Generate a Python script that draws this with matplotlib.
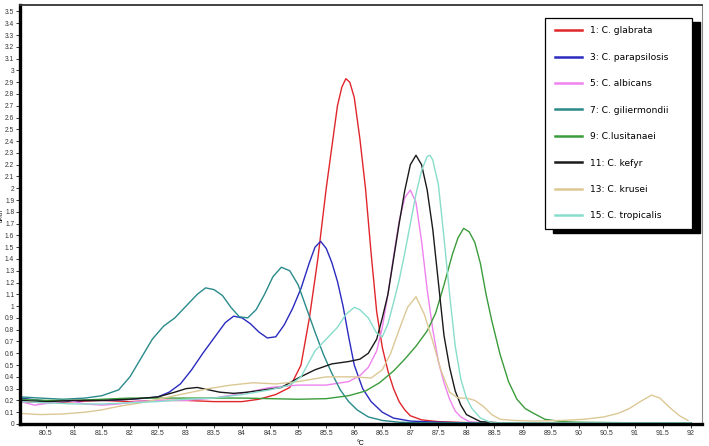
import matplotlib
matplotlib.use("Agg")
import matplotlib.pyplot as plt
from matplotlib.patches import Rectangle
import numpy as np

plt.rcParams['font.family'] = ['Liberation Sans', 'DejaVu Sans']

# -- melt curve data (dF/dT vs temperature) --
names = ['1: C. glabrata', '3: C. parapsilosis', '5: C. albicans', '7: C. giliermondii',
         '9: C.lusitanaei', '11: C. kefyr', '13: C. krusei', '15: C. tropicalis']
colors = ['#e0262b', '#2a2ac0', '#ee82ee', '#2a8a8a', '#3b9c3b', '#1a1a1a', '#dcc895', '#88dccc']

glabrata_x = [80.05, 80.5, 81.0, 81.5, 82.0, 82.5, 83.0, 83.5, 84.0, 84.3, 84.6, 84.85, 85.05, 85.2, 85.35,
              85.5, 85.6, 85.7, 85.78, 85.85, 85.92, 86.0, 86.1, 86.2, 86.3, 86.4, 86.5, 86.6, 86.7, 86.8,
              86.9, 87.0, 87.2, 87.5, 88.0, 89, 90, 91, 92]
glabrata_y = [0.19, 0.18, 0.19, 0.2, 0.19, 0.2, 0.2, 0.19, 0.19, 0.21, 0.25, 0.31, 0.5, 0.9, 1.4,
              2.0, 2.35, 2.7, 2.86, 2.93, 2.9, 2.77, 2.42, 2.0, 1.45, 0.95, 0.65, 0.45, 0.3, 0.19,
              0.12, 0.07, 0.035, 0.02, 0.012, 0.01, 0.01, 0.01, 0.01]

parapsilosis_x = [80.05, 80.4, 80.8, 81.2, 81.6, 82.0, 82.3, 82.5, 82.7, 82.9, 83.1, 83.3, 83.5, 83.7, 83.85,
                  84.0, 84.15, 84.3, 84.45, 84.6, 84.75, 84.9, 85.05, 85.2, 85.3, 85.4, 85.5, 85.6, 85.7,
                  85.8, 85.9, 86.0, 86.15, 86.3, 86.5, 86.7, 87.0, 87.5, 88, 89, 90, 91, 92]
parapsilosis_y = [0.22, 0.2, 0.19, 0.2, 0.2, 0.21, 0.22, 0.23, 0.27, 0.34, 0.46, 0.6, 0.73, 0.86, 0.915,
                  0.9, 0.85, 0.78, 0.73, 0.74, 0.84, 0.98, 1.15, 1.37, 1.5, 1.55, 1.49, 1.37, 1.21,
                  1.0, 0.74, 0.5, 0.3, 0.19, 0.1, 0.05, 0.025, 0.015, 0.01, 0.01, 0.01, 0.01, 0.01]

albicans_x = [80.05, 80.3, 80.6, 80.9, 81.2, 81.5, 81.8, 82.1, 82.5, 83.0, 83.5, 84.0, 84.5, 85.0, 85.5,
              85.9, 86.1, 86.25, 86.4, 86.5, 86.6, 86.7, 86.8, 86.9, 87.0, 87.1, 87.2, 87.3, 87.4, 87.5,
              87.6, 87.7, 87.8, 87.9, 88.05, 88.3, 89, 90, 91, 92]
albicans_y = [0.19, 0.16, 0.18, 0.2, 0.17, 0.16, 0.17, 0.19, 0.2, 0.2, 0.22, 0.26, 0.31, 0.33, 0.33,
              0.36, 0.41, 0.48, 0.62, 0.82, 1.1, 1.42, 1.72, 1.92, 1.985, 1.88, 1.55, 1.14, 0.8, 0.53,
              0.35, 0.21, 0.11, 0.06, 0.02, 0.01, 0.01, 0.01, 0.01, 0.01]

giliermondii_x = [80.05, 80.4, 80.8, 81.2, 81.5, 81.8, 82.0, 82.2, 82.4, 82.6, 82.8, 83.0, 83.2, 83.35, 83.5,
                  83.65, 83.8, 83.95, 84.1, 84.25, 84.4, 84.55, 84.7, 84.85, 85.0, 85.15, 85.3, 85.45,
                  85.6, 85.75, 85.9, 86.05, 86.25, 86.5, 86.8, 87.2, 88, 89, 90, 91, 92]
giliermondii_y = [0.23, 0.22, 0.21, 0.22, 0.24, 0.29, 0.4, 0.56, 0.72, 0.83, 0.9, 1.0, 1.1, 1.155, 1.14,
                  1.09, 0.99, 0.91, 0.9, 0.97, 1.1, 1.25, 1.33, 1.3, 1.18, 0.98, 0.78, 0.59,
                  0.43, 0.29, 0.19, 0.12, 0.06, 0.03, 0.015, 0.01, 0.01, 0.01, 0.01, 0.01, 0.01]

lusitanaei_x = [80.05, 80.5, 81.0, 81.5, 82.0, 82.5, 83.0, 83.5, 84.0, 84.5, 85.0, 85.5, 85.9, 86.2, 86.45,
                86.7, 86.9, 87.1, 87.3, 87.45, 87.6, 87.75, 87.85, 87.95, 88.05, 88.15, 88.25, 88.35, 88.45,
                88.6, 88.75, 88.9, 89.05, 89.2, 89.4, 89.7, 90, 91, 92]
lusitanaei_y = [0.21, 0.2, 0.2, 0.21, 0.22, 0.22, 0.22, 0.22, 0.22, 0.215, 0.21, 0.215, 0.24, 0.28, 0.35,
                0.45, 0.55, 0.66, 0.79, 0.94, 1.18, 1.44, 1.58, 1.66, 1.63, 1.54, 1.36, 1.1, 0.88,
                0.59, 0.36, 0.21, 0.13, 0.09, 0.04, 0.02, 0.015, 0.01, 0.01]

kefyr_x = [80.05, 80.5, 81.0, 81.5, 82.0, 82.5, 82.8, 83.0, 83.2, 83.4, 83.6, 83.85, 84.1, 84.4, 84.7, 85.0,
           85.3, 85.6, 85.9, 86.1, 86.25, 86.4, 86.5, 86.6, 86.7, 86.8, 86.9, 87.0, 87.1, 87.2, 87.3, 87.4,
           87.5, 87.6, 87.7, 87.8, 87.9, 88.0, 88.25, 88.6, 89, 90, 91, 92]
kefyr_y = [0.2, 0.19, 0.2, 0.2, 0.21, 0.23, 0.27, 0.3, 0.31, 0.29, 0.27, 0.26, 0.27, 0.29, 0.31, 0.39,
           0.46, 0.51, 0.53, 0.55, 0.6, 0.72, 0.9, 1.1, 1.4, 1.7, 1.98, 2.2, 2.28, 2.2, 1.985, 1.65,
           1.2, 0.75, 0.48, 0.28, 0.16, 0.08, 0.02, 0.01, 0.01, 0.01, 0.01, 0.01]

krusei_x = [80.05, 80.4, 80.8, 81.2, 81.5, 81.8, 82.2, 82.6, 83.0, 83.4, 83.8, 84.2, 84.6, 85.0, 85.5, 86.0,
            86.3, 86.5, 86.65, 86.8, 86.95, 87.1, 87.25, 87.4, 87.55, 87.7, 87.85, 88.0, 88.15, 88.3, 88.45,
            88.6, 88.85, 89.2, 89.7, 90.1, 90.45, 90.7, 90.9, 91.1, 91.3, 91.45, 91.6, 91.8, 91.95]
krusei_y = [0.09, 0.08, 0.085, 0.1, 0.12, 0.15, 0.18, 0.22, 0.26, 0.3, 0.33, 0.35, 0.34, 0.36, 0.4, 0.4,
            0.39, 0.46, 0.6, 0.8, 0.99, 1.08, 0.93, 0.7, 0.45, 0.27, 0.22, 0.22, 0.2, 0.15, 0.08,
            0.04, 0.03, 0.025, 0.03, 0.04, 0.06, 0.09, 0.13, 0.19, 0.245, 0.22, 0.15, 0.07, 0.03]

tropicalis_x = [80.05, 80.5, 81.0, 81.5, 82.0, 82.5, 83.0, 83.5, 84.0, 84.5, 84.85, 85.05, 85.3, 85.5, 85.7,
                85.85, 86.0, 86.1, 86.25, 86.4, 86.5, 86.6, 86.7, 86.8, 86.9, 87.0, 87.1, 87.2, 87.3, 87.35,
                87.4, 87.5, 87.6, 87.7, 87.8, 87.9, 88.0, 88.1, 88.25, 88.45, 89, 90, 91, 92]
tropicalis_y = [0.19, 0.18, 0.17, 0.17, 0.18, 0.19, 0.21, 0.22, 0.25, 0.29, 0.33, 0.4, 0.62, 0.72, 0.82,
                0.93, 0.99, 0.97, 0.9, 0.77, 0.74, 0.85, 1.03, 1.22, 1.45, 1.7, 1.95, 2.15, 2.27, 2.28,
                2.24, 2.03, 1.58, 1.1, 0.66, 0.38, 0.22, 0.13, 0.05, 0.01, 0.01, 0.01, 0.01, 0.01]

series_x = [glabrata_x, parapsilosis_x, albicans_x, giliermondii_x, lusitanaei_x, kefyr_x, krusei_x, tropicalis_x]
series_y = [glabrata_y, parapsilosis_y, albicans_y, giliermondii_y, lusitanaei_y, kefyr_y, krusei_y, tropicalis_y]

x_ticks = np.arange(80.5, 92.01, 0.5)
y_ticks = np.round(np.arange(0, 3.51, 0.1), 1)

W, H = 709, 446
fig = plt.figure(figsize=(W / 100, H / 100), dpi=100)
ax = fig.add_axes([20 / W, 1 - 424 / H, 682 / W, 419 / H])

for xs, ys, c, n in zip(series_x, series_y, colors, names):
    ax.plot(xs, ys, color=c, lw=1.0, label=n)

ax.set_xlim(80.04, 92.2)
ax.set_ylim(0, 3.555)
ax.set_xticks(x_ticks)
ax.set_xticklabels(['%g' % t for t in x_ticks])
ax.set_yticks(y_ticks)
ax.set_yticklabels(['%g' % t for t in y_ticks])
ax.tick_params(direction='out', length=3, width=0.7, labelsize=5, pad=1.5, colors='#333333')
ax.tick_params(axis='y', labelsize=4.8, pad=1.2)
ax.set_xlabel('°C', fontsize=5, labelpad=2)
ax.set_ylabel('dF/dT', fontsize=4)
ax.yaxis.set_label_coords(-0.0235, 0.5)

ax.spines['left'].set_linewidth(2.4)
ax.spines['bottom'].set_linewidth(2.4)
ax.spines['top'].set_linewidth(1.3)
ax.spines['top'].set_color('#333333')
ax.spines['right'].set_linewidth(0.8)
ax.spines['right'].set_color('#888888')

# legend box with a hard black shadow
ax.add_patch(Rectangle((553 / W, 1 - 233 / H), 147 / W, 211 / H, transform=fig.transFigure,
                       facecolor='black', edgecolor='black', clip_on=False, zorder=4))
ax.add_patch(Rectangle((545 / W, 1 - 229 / H), 147 / W, 211 / H, transform=fig.transFigure,
                       facecolor='white', edgecolor='black', lw=0.9, clip_on=False, zorder=4.1))
leg = ax.legend(loc='center left', bbox_to_anchor=(555 / W, 1 - 123.4 / H), bbox_transform=fig.transFigure,
                frameon=False, borderpad=0, borderaxespad=0, labelspacing=1.9,
                handlelength=2.95, handletextpad=0.87,
                prop={'family': ['DejaVu Sans'], 'size': 6.6})
for line in leg.get_lines():
    line.set_linewidth(1.8)

fig.savefig('out.png', dpi=100)
